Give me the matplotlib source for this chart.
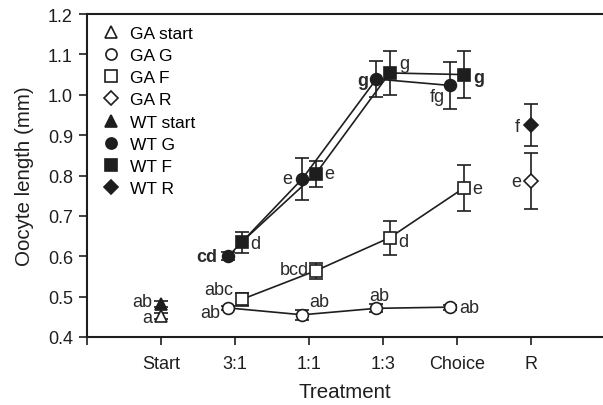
import matplotlib
matplotlib.use("Agg")
import matplotlib.pyplot as plt
from matplotlib.lines import Line2D
import numpy as np

plt.rcParams['font.family'] = ['Liberation Sans', 'DejaVu Sans']

# treatments on the x axis (Start and R are single points, the middle four are lines)
treatments = ["Start", "3:1", "1:1", "1:3", "Choice", "R"]
mid = ["3:1", "1:1", "1:3", "Choice"]

ga_start, ga_start_err = 0.452, 0.008
wt_start, wt_start_err = 0.482, 0.008

ga_g = [0.472, 0.455, 0.471, 0.474]
ga_g_err = [0.006, 0.012, 0.010, 0.006]
ga_f = [0.493, 0.564, 0.646, 0.769]
ga_f_err = [0.017, 0.020, 0.042, 0.058]
wt_g = [0.600, 0.792, 1.039, 1.023]
wt_g_err = [0.010, 0.052, 0.045, 0.059]
wt_f = [0.635, 0.804, 1.054, 1.050]
wt_f_err = [0.026, 0.033, 0.054, 0.058]

ga_r, ga_r_err = 0.786, 0.070
wt_r, wt_r_err = 0.924, 0.052

# significance letters
ga_g_lab = ["ab", "ab", "ab", "ab"]
ga_f_lab = ["abc", "bcd", "d", "e"]
wt_g_lab = ["cd", "e", "g", "fg"]
wt_f_lab = ["d", "e", "g", "g"]
start_lab = ["a", "ab"]
r_lab = ["e", "f"]

INK = "#1e1e1e"
xpos = {t: i + 1 for i, t in enumerate(treatments)}
xm = np.array([xpos[t] for t in mid], dtype=float)
dx = 0.09

fig = plt.figure(figsize=(6.03, 4.06), dpi=100)
ax = fig.add_axes([0.144, 0.1675, 0.856, 0.7955])

ekw = dict(ecolor=INK, elinewidth=1.2, capsize=5, capthick=1.2, zorder=2)
mk = 8.5
handles = []


def series(x, y, err, marker, filled, label, line=True):
    ms = mk if marker != "D" else mk - 1
    ax.errorbar(x, y, yerr=err, fmt="none", **ekw)
    ax.plot(x, y, linestyle="-" if line else "none", color=INK, lw=1.2,
            marker=marker, ms=ms, mfc=INK if filled else "white", mec=INK,
            mew=1.2, zorder=3)
    handles.append(Line2D([], [], linestyle="none", marker=marker, ms=ms - 0.5,
                          mfc=INK if filled else "white", mec=INK, mew=1.2,
                          label=label))


series([xpos["Start"]], [ga_start], [ga_start_err], "^", False, "GA start", False)
series(xm - dx, ga_g, ga_g_err, "o", False, "GA G")
series(xm + dx, ga_f, ga_f_err, "s", False, "GA F")
series([xpos["R"]], [ga_r], [ga_r_err], "D", False, "GA R", False)
series([xpos["Start"]], [wt_start], [wt_start_err], "^", True, "WT start", False)
series(xm - dx, wt_g, wt_g_err, "o", True, "WT G")
series(xm + dx, wt_f, wt_f_err, "s", True, "WT F")
series([xpos["R"]], [wt_r], [wt_r_err], "D", True, "WT R", False)

fs = 13


def lab(x, y, s, dxp, dyp, ha, bold=False):
    ax.annotate(s, (x, y), xytext=(dxp, dyp), textcoords="offset points",
                ha=ha, va="center", fontsize=fs, color="#2a2a2a",
                fontweight="bold" if bold else "normal")


# GA G
lab(xm[0] - dx, ga_g[0], ga_g_lab[0], -6, -3, "right")
lab(xm[1] - dx, ga_g[1], ga_g_lab[1], 5, 9.5, "left")
lab(xm[2] - dx, ga_g[2], ga_g_lab[2], 2, 9.5, "center")
lab(xm[3] - dx, ga_g[3], ga_g_lab[3], 6, 0, "left")
# GA F
lab(xm[0] + dx, ga_f[0], ga_f_lab[0], -6, 7, "right")
lab(xm[1] + dx, ga_f[1], ga_f_lab[1], -5, 1, "right")
lab(xm[2] + dx, ga_f[2], ga_f_lab[2], 6, -3, "left")
lab(xm[3] + dx, ga_f[3], ga_f_lab[3], 6, 0, "left")
# WT G
lab(xm[0] - dx, wt_g[0], wt_g_lab[0], -8, 0, "right", True)
lab(xm[1] - dx, wt_g[1], wt_g_lab[1], -7, 0, "right")
lab(xm[2] - dx, wt_g[2], wt_g_lab[2], -6, -1, "right", True)
lab(xm[3] - dx, wt_g[3], wt_g_lab[3], -4, -8, "right")
# WT F
lab(xm[0] + dx, wt_f[0], wt_f_lab[0], 6, -1, "left")
lab(xm[1] + dx, wt_f[1], wt_f_lab[1], 6, 0, "left")
lab(xm[2] + dx, wt_f[2], wt_f_lab[2], 7, 6.5, "left")
lab(xm[3] + dx, wt_f[3], wt_f_lab[3], 7, -2, "left", True)
# Start and R
lab(xpos["Start"], ga_start, start_lab[0], -6, -1, "right")
lab(xpos["Start"], wt_start, start_lab[1], -6, 2, "right")
lab(xpos["R"], ga_r, r_lab[0], -7, 0, "right")
lab(xpos["R"], wt_r, r_lab[1], -8, -1, "right")

ax.set_xlim(0, 6.97)
ax.set_ylim(0.4, 1.2)
ax.set_xticks([0] + [xpos[t] for t in treatments])
ax.set_xticklabels([""] + treatments)
ax.set_yticks(np.arange(0.4, 1.21, 0.1))
ax.set_yticklabels([f"{v:.1f}" for v in np.arange(0.4, 1.21, 0.1)])
ax.tick_params(labelsize=13, colors=INK, width=1.2, length=6, direction="out")
ax.tick_params(axis="x", pad=7)
ax.tick_params(axis="y", pad=4)
for s in ["left", "top", "bottom"]:
    ax.spines[s].set_linewidth(1.5)
    ax.spines[s].set_color(INK)
ax.spines["right"].set_visible(False)

ax.set_xlabel("Treatment", fontsize=14.8, color=INK, labelpad=7)
ax.set_ylabel("Oocyte length (mm)", fontsize=14.8, color=INK, labelpad=10)

ax.legend(handles=handles, loc="upper left", bbox_to_anchor=(0.012, 0.995),
          frameon=False, fontsize=12.5, handlelength=0.9, handletextpad=0.65,
          labelspacing=0.40, borderaxespad=0.2, numpoints=1)

fig.savefig("out.png", dpi=100)
